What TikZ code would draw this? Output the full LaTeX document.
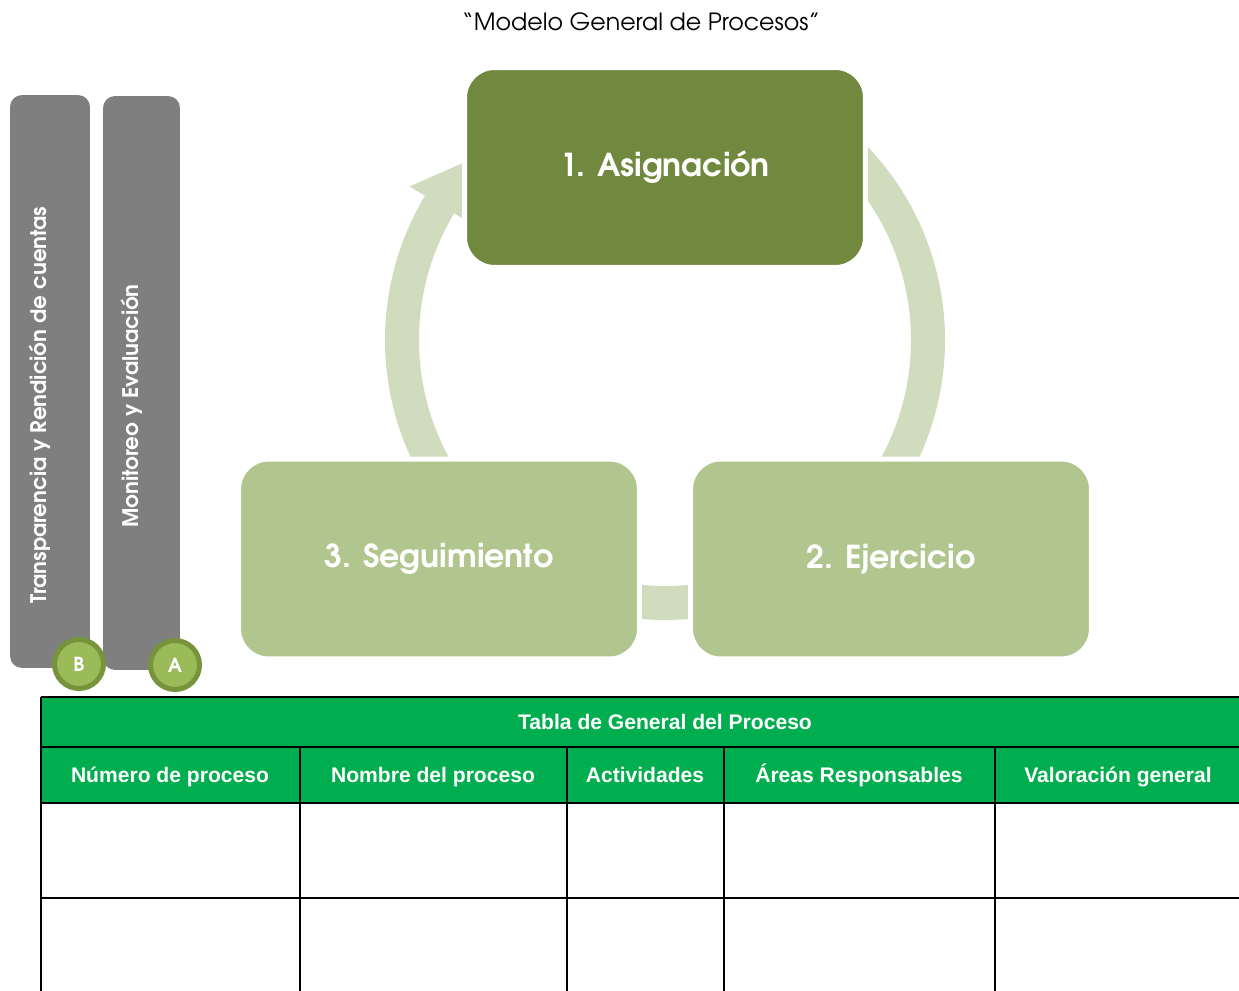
\documentclass[tikz,border=0pt]{standalone}
\usepackage{fontspec}
\setmainfont{TeX Gyre Adventor}
\newfontfamily\tablefont{Liberation Sans}
\usetikzlibrary{positioning}

\definecolor{barGray}{HTML}{7F7F7F}
\definecolor{stepDark}{HTML}{71893F}
\definecolor{stepLight}{HTML}{B1C68E}
\definecolor{ringGreen}{HTML}{D0DCBD}
\definecolor{badgeFill}{HTML}{9BBB59}
\definecolor{badgeLine}{HTML}{77933C}
\definecolor{tableGreen}{HTML}{00AE4F}

\tikzset{
  stepbox/.style={draw=white, line width=0.1cm, rounded corners=0.6cm,
    minimum width=8.02cm, minimum height=4cm, text=white,
    font=\bfseries\fontsize{18}{22}\selectfont},
  sidebar/.style={fill=barGray, rounded corners=0.24cm},
  sidetext/.style={rotate=90, text=white, font=\bfseries\fontsize{12.2}{14}\selectfont},
  badge/.style={circle, fill=badgeFill, draw=badgeLine, line width=0.1cm,
    minimum size=0.98cm, inner sep=0pt, text=white,
    font=\bfseries\fontsize{11}{12}\selectfont},
  headcell/.style={text=white, font=\tablefont\bfseries\fontsize{12}{14}\selectfont},
  gridline/.style={line width=0.05cm}
}

\begin{document}
\begin{tikzpicture}[x=0.02cm, y=0.02cm]
  \useasboundingbox (0,0) rectangle (1239,990);
  % title
  \node[font=\fontsize{13.5}{16}\selectfont] (title) at (641,968) {“Modelo General de Procesos”};

  % side bars
  \node[sidebar, minimum width=1.6cm, minimum height=11.46cm] (barB) at (50,608.5) {};
  \node[sidebar, minimum width=1.54cm, minimum height=11.48cm] (barA) at (141.5,607) {};
  \node[sidetext] (textB) at (40,585) {Transparencia y Rendición de cuentas};
  \node[sidetext] (textA) at (132,584) {Monitoreo y Evaluación};
  \node[badge] (badgeB) at (79,326) {B};
  \node[badge] (badgeA) at (175,325) {A};

  % cycle ring
  \coordinate (ctr) at (665,650);
  \foreach \s/\e [evaluate=\e as \t using \e-13] in {220/149, 47/-35, -60/-120}{
    \fill[ringGreen] ([shift={(\s:280)}]ctr) arc[start angle=\s, end angle=\e, radius=280]
      -- ([shift={(\e:298)}]ctr) -- ([shift={(\t:263)}]ctr) -- ([shift={(\e:228)}]ctr)
      -- ([shift={(\e:246)}]ctr) arc[start angle=\e, end angle=\s, radius=246] -- cycle;
  }

  % steps
  \node[stepbox, fill=stepDark] (asig) at (665,822.5) {1. Asignación};
  \node[stepbox, fill=stepLight] (segui) at (439,431) {3. Seguimiento};
  \node[stepbox, fill=stepLight] (ejer) at (891,431) {2. Ejercicio};

  % table
  \fill[tableGreen] (41,187) rectangle (1241,293);
  \foreach \y in {293,243,187,92}
    \draw[gridline] (41,\y) -- (1241,\y);
  \draw[gridline] (41,293) -- (41,-10);
  \foreach \x in {300,567,724,995}
    \draw[gridline] (\x,243) -- (\x,-10);
  \node[headcell] (tabtitle) at (665,268) {Tabla de General del Proceso};
  \foreach \name/\cx/\txt in {numero/170/Número de proceso, nombre/433/Nombre del proceso,
      activ/645/Actividades, areas/859/Áreas Responsables, valor/1118/Valoración general}
    \node[headcell, anchor=base] (\name) at (\cx,208) {\txt};
\end{tikzpicture}
\end{document}
